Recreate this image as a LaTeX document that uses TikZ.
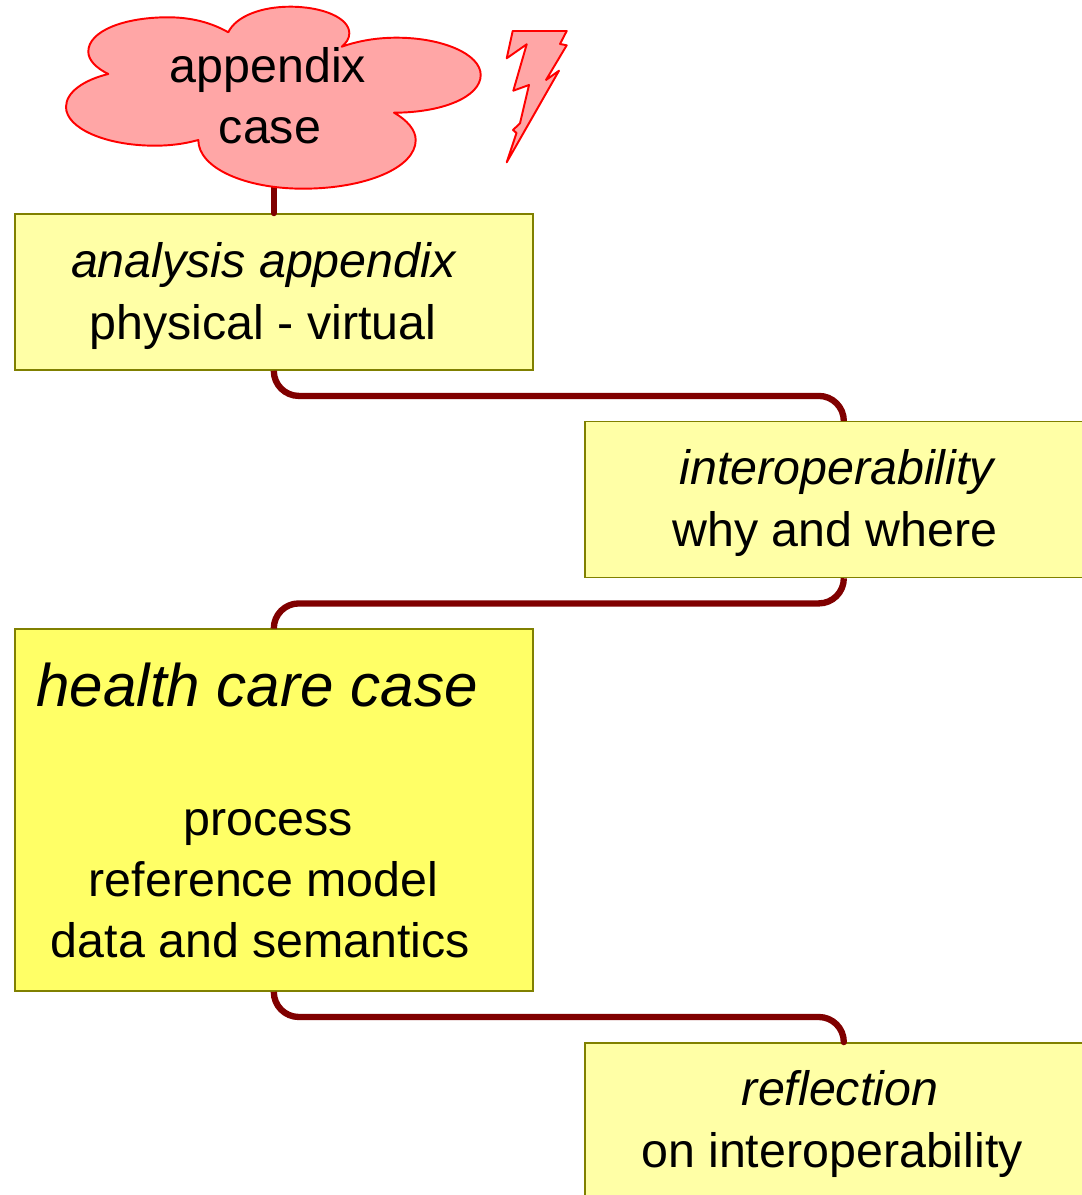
\documentclass[tikz,border=0pt]{standalone}
\usepackage{fontspec}
\setmainfont{Liberation Sans}
\usetikzlibrary{positioning}

\definecolor{boxlight}{HTML}{FFFFA6}
\definecolor{boxstrong}{HTML}{FFFF66}
\definecolor{boxline}{HTML}{808000}
\definecolor{cloudfill}{HTML}{FFA6A6}
\definecolor{linkred}{HTML}{800000}

\tikzset{
    stage/.style={draw=boxline, line width=0.5pt, fill=boxlight, minimum width=5.18cm, minimum height=1.56cm, inner sep=0pt},
    words/.style={align=center, inner sep=0pt, font=\fontsize{13.75}{17.36}\selectfont},
    link/.style={draw=linkred, line width=1.8pt, line cap=round, rounded corners=0.25cm},
    storm/.style={draw=red, line width=0.55pt, fill=cloudfill, line join=round}
}

\begin{document}
\begin{tikzpicture}[x=0.01cm, y=-0.01cm]
    \useasboundingbox (0,0) rectangle (1081,1195);

    % Boxes
    \node[stage] (analysis) at (273.8,292) {};
    \node[stage] (interop) at (843.8,499.5) {};
    \node[stage, fill=boxstrong, minimum height=3.62cm] (health) at (273.8,810) {};
    \node[stage] (reflection) at (843.8,1121) {};

    % Connectors between the boxes
    \draw[link] (analysis.north) -- ++(0,-30) coordinate (cloudfoot);
    \draw[link] (analysis.south) -- ++(0,25) -| (interop.north);
    \draw[link] (interop.south) -- ++(0,25) -| (health.north);
    \draw[link] (health.south) -- ++(0,25) -| (reflection.north);

    % Cloud
    \draw[storm] (228.3,32.3)
        .. controls (236,16) and (262,6.7) .. (290,6.7)
        .. controls (323,6.7) and (349.3,18) .. (349.3,33.3)
        .. controls (349.3,39) and (346,43) .. (341.7,46.7)
        .. controls (358,41) and (376,37.7) .. (396.7,37.7)
        .. controls (442,37.7) and (480.7,54) .. (480.7,75)
        .. controls (480.7,97) and (442,112.7) .. (394,112.7)
        .. controls (407,120) and (415.7,130) .. (415.7,140)
        .. controls (415.7,168) and (365,188.7) .. (303,188.7)
        .. controls (245,188.7) and (198.3,168) .. (198.3,140)
        .. controls (184,144) and (170,145.7) .. (155,145.7)
        .. controls (105,145.7) and (66,128) .. (66,107)
        .. controls (66,92) and (84,80) .. (108.3,74)
        .. controls (96,68) and (88.3,60) .. (88.3,51.7)
        .. controls (88.3,31) and (124,17.3) .. (168,17.3)
        .. controls (192,17.3) and (212,23) .. (228.3,32.3) -- cycle;

    % Lightning
    \draw[storm] (512.7,31) -- (566.7,31) -- (560,44) -- (566.7,45.3) -- (546,80) -- (559,70.7) -- (506.7,162.3) -- (516.5,133) -- (513,130) -- (520,123.3) -- (529,85) -- (513.3,90.7) -- (526.7,44.3) -- (506.7,58.3) -- cycle;

    % Texts
    \node[words] (cloudtext) at (268,96) {appendix\\\hspace*{0.04cm}case};
    \node[words] (analysistext) at (263,296) {\hspace*{0.02cm}\textit{analysis appendix}\\physical - virtual};
    \node[words] (interoptext) at (835,503) {\hspace*{0.06cm}\textit{interoperability}\\why and where};
    \node[words, font=\fontsize{17.1}{20}\selectfont] (healthtitle) at (257,685) {\textit{health care case}};
    \node[words] (healthtext) at (260.5,884) {\hspace*{0.15cm}process\\\hspace*{0.06cm}reference model\\data and semantics};
    \node[words] (reflectiontext) at (832,1124) {\hspace*{0.16cm}\textit{reflection}\\on interoperability};
\end{tikzpicture}
\end{document}
